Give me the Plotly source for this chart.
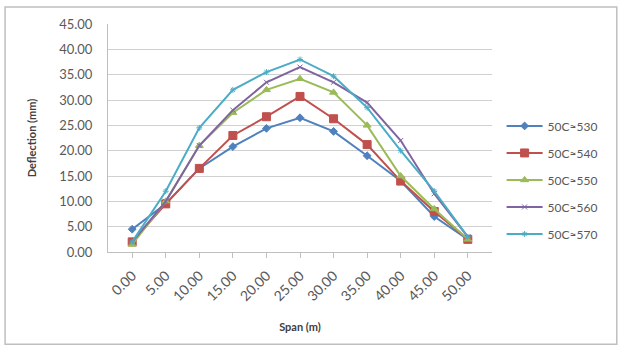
import plotly.graph_objects as go

span = ["0.00", "5.00", "10.00", "15.00", "20.00", "25.00", "30.00", "35.00", "40.00", "45.00", "50.00"]
soc530 = [4.5, 9.5, 16.5, 20.8, 24.4, 26.5, 23.8, 19.0, 14.0, 7.0, 2.5]
soc540 = [2.0, 9.5, 16.5, 23.0, 26.7, 30.7, 26.3, 21.2, 14.0, 8.0, 2.5]
soc550 = [1.5, 10.0, 21.0, 27.5, 32.0, 34.2, 31.5, 25.0, 15.0, 8.5, 2.5]
soc560 = [2.0, 10.0, 21.0, 28.0, 33.5, 36.5, 33.5, 29.5, 22.0, 11.5, 3.0]
soc570 = [2.0, 12.0, 24.5, 32.0, 35.5, 38.0, 34.7, 28.5, 20.0, 12.0, 3.0]
names = ["50C≈530", "50C≈540", "50C≈550", "50C≈560", "50C≈570"]
colors = ["#4F81BD", "#C0504D", "#9BBB59", "#8064A2", "#4BACC6"]
symbols = ["diamond", "square", "triangle-up", "x-thin-open", "asterisk-open"]
sizes = [6, 8, 7, 5, 5]

fig = go.Figure()
for i, (ys, nm, c, s, sz) in enumerate(zip([soc530, soc540, soc550, soc560, soc570], names, colors, symbols, sizes)):
    fig.add_trace(go.Scatter(
        x=span, y=ys, name=nm, mode="lines+markers", legendgroup="g%d" % i,
        line=dict(color=c, width=2),
        marker=dict(symbol=s, size=sz, color=c, line=dict(color=c, width=1)),
    ))

fig.update_layout(
    width=621, height=349,
    margin=dict(l=108, r=129, t=24, b=97, autoexpand=False),
    paper_bgcolor="white", plot_bgcolor="white",
    font=dict(family="Lato, Liberation Sans, sans-serif", size=12, color="#595959"),
    showlegend=True,
    legend=dict(x=1.025, y=0.316, xanchor="left", yanchor="middle",
                font=dict(size=12, color="#595959"), tracegroupgap=8,
                itemwidth=36, bgcolor="rgba(0,0,0,0)"),
    shapes=[dict(type="rect", xref="paper", yref="paper",
                 x0=-0.268, x1=1.325, y0=-0.405, y1=1.075,
                 line=dict(color="#BFBFBF", width=1.5), layer="below")],
)
fig.update_xaxes(
    type="category", tickangle=-45, showgrid=False, automargin=False,
    showline=True, linecolor="#BFBFBF", ticks="outside", tickcolor="#BFBFBF", ticklen=5,
    tickfont=dict(size=14), ticklabelstandoff=4,
    title=dict(text="<b>Span (m)</b>", font=dict(size=11, color="#404040"), standoff=20),
)
fig.update_yaxes(
    range=[0, 45], dtick=5, tickformat=".2f", automargin=False,
    showgrid=True, gridcolor="#D0D0D0", gridwidth=1,
    showline=True, linecolor="#BFBFBF", zeroline=False,
    tickfont=dict(size=13), ticklabelstandoff=12,
    title=dict(text="<b>Deflection (mm)</b>", font=dict(size=11, color="#404040"), standoff=20),
)
fig.write_html("out.html")
